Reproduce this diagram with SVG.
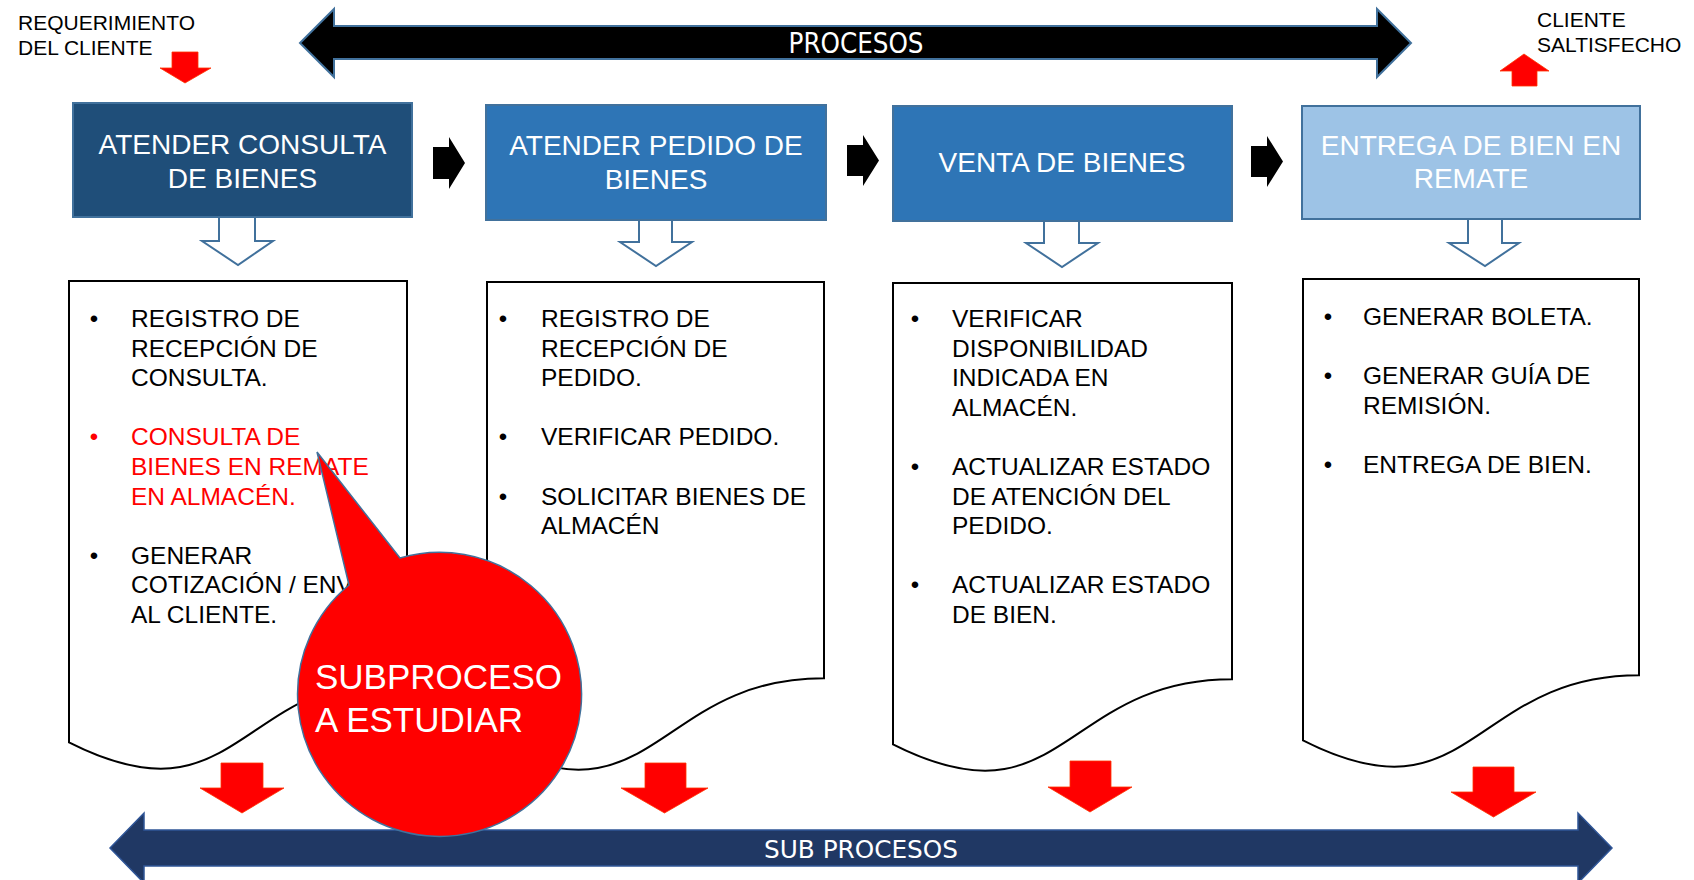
<svg xmlns="http://www.w3.org/2000/svg" width="1694" height="880" viewBox="0 0 1694 880">
<defs>
<style>
text{font-family:"Liberation Sans",Arial,sans-serif;}
.small{font-size:21px;fill:#000;}
.box{stroke:#41719C;stroke-width:2;}
.bt{font-size:28px;fill:#fff;text-anchor:middle;}
.doc{fill:#fff;stroke:#000;stroke-width:2;}
.li{font-size:24.5px;fill:#000;}
.lr{font-size:24.5px;fill:#FF0000;}
.bul{font-size:24px;text-anchor:middle;fill:#000;}
.bulr{font-size:24px;text-anchor:middle;fill:#FF0000;}
.hollow{fill:#fff;stroke:#41719C;stroke-width:2;}
.blk{fill:#000;}
.redar{fill:#FF0000;stroke:#FF3300;stroke-width:0.8;}
.band{font-family:"DejaVu Sans Condensed","Liberation Sans",sans-serif;fill:#fff;text-anchor:middle;}
</style>
</defs>
<rect width="1694" height="880" fill="#fff"/>

<g id="label-requerimiento">
<text class="small" x="18" y="30">REQUERIMIENTO</text>
<text class="small" x="18" y="55">DEL CLIENTE</text>
</g>
<g id="label-cliente">
<text class="small" x="1537" y="27">CLIENTE</text>
<text class="small" x="1537" y="52">SALTISFECHO</text>
</g>

<g id="procesos">
<path d="M300,43 L334,9 L334,26 L1377,26 L1377,9 L1411,43 L1377,77 L1377,59 L334,59 L334,77 Z" fill="#000" stroke="#41719C" stroke-width="2"/>
<text class="band" x="856" y="53" font-size="28" textLength="135" lengthAdjust="spacingAndGlyphs">PROCESOS</text>
</g>

<g id="box1">
<rect class="box" x="73" y="103" width="339" height="114" fill="#1F4E79"/>
<text class="bt" x="242.5" y="154">ATENDER CONSULTA</text>
<text class="bt" x="242.5" y="188">DE BIENES</text>
</g>
<g id="box2">
<rect class="box" x="486" y="105" width="340" height="115" fill="#2E75B6"/>
<text class="bt" x="656" y="155">ATENDER PEDIDO DE</text>
<text class="bt" x="656" y="189">BIENES</text>
</g>
<g id="box3">
<rect class="box" x="893" y="106" width="339" height="115" fill="#2E75B6"/>
<text class="bt" x="1062" y="172">VENTA DE BIENES</text>
</g>
<g id="box4">
<rect class="box" x="1302" y="106" width="338" height="113" fill="#9DC3E6"/>
<text class="bt" x="1471" y="155">ENTREGA DE BIEN EN</text>
<text class="bt" x="1471" y="188">REMATE</text>
</g>

<g id="doc1">
<path class="doc" d="M69,281 H407 V677.2 C238,677.2 238,828.1 69,742.4 Z"/>
<text class="bul" x="94" y="327">•</text>
<text class="li" x="131" y="327">REGISTRO DE</text>
<text class="li" x="131" y="356.6">RECEPCIÓN DE</text>
<text class="li" x="131" y="386.2">CONSULTA.</text>
<text class="bulr" x="94" y="445.4">•</text>
<text class="lr" x="131" y="445.4">CONSULTA DE</text>
<text class="lr" x="131" y="475">BIENES EN REMATE</text>
<text class="lr" x="131" y="504.6">EN ALMACÉN.</text>
<text class="bul" x="94" y="563.8">•</text>
<text class="li" x="131" y="563.8">GENERAR</text>
<text class="li" x="131" y="593.4">COTIZACIÓN / ENVÍO</text>
<text class="li" x="131" y="623">AL CLIENTE.</text>
</g>

<g id="doc2">
<path class="doc" d="M487,282 H824 V678.2 C655.5,678.2 655.5,829.1 487,743.4 Z"/>
<text class="bul" x="503" y="327">•</text>
<text class="li" x="541" y="327">REGISTRO DE</text>
<text class="li" x="541" y="356.6">RECEPCIÓN DE</text>
<text class="li" x="541" y="386.2">PEDIDO.</text>
<text class="bul" x="503" y="445.4">•</text>
<text class="li" x="541" y="445.4">VERIFICAR PEDIDO.</text>
<text class="bul" x="503" y="504.6">•</text>
<text class="li" x="541" y="504.6">SOLICITAR BIENES DE</text>
<text class="li" x="541" y="534.2">ALMACÉN</text>
</g>

<g id="doc3">
<path class="doc" d="M893,283 H1232 V679.2 C1062.5,679.2 1062.5,830.1 893,744.4 Z"/>
<text class="bul" x="915" y="327">•</text>
<text class="li" x="952" y="327">VERIFICAR</text>
<text class="li" x="952" y="356.6">DISPONIBILIDAD</text>
<text class="li" x="952" y="386.2">INDICADA EN</text>
<text class="li" x="952" y="415.8">ALMACÉN.</text>
<text class="bul" x="915" y="475">•</text>
<text class="li" x="952" y="475">ACTUALIZAR ESTADO</text>
<text class="li" x="952" y="504.6">DE ATENCIÓN DEL</text>
<text class="li" x="952" y="534.2">PEDIDO.</text>
<text class="bul" x="915" y="593.4">•</text>
<text class="li" x="952" y="593.4">ACTUALIZAR ESTADO</text>
<text class="li" x="952" y="623">DE BIEN.</text>
</g>

<g id="doc4">
<path class="doc" d="M1303,279 H1639 V675.2 C1471,675.2 1471,826.1 1303,740.4 Z"/>
<text class="bul" x="1328" y="325">•</text>
<text class="li" x="1363" y="325">GENERAR BOLETA.</text>
<text class="bul" x="1328" y="384.2">•</text>
<text class="li" x="1363" y="384.2">GENERAR GUÍA DE</text>
<text class="li" x="1363" y="413.8">REMISIÓN.</text>
<text class="bul" x="1328" y="473">•</text>
<text class="li" x="1363" y="473">ENTREGA DE BIEN.</text>
</g>

<g id="connectors">
<path class="redar" d="M172,52 H198 V68 H211 L185,83 L160,68 H172 Z"/>
<path class="redar" d="M1512,86 H1537 V71 H1549 L1524,54 L1500,71 H1512 Z"/>
<path class="blk" d="M433,147 H449 V137 L465,163 L449,189 V179 H433 Z"/>
<path class="blk" d="M847,145 H863 V135 L879,160.5 L863,186 V176 H847 Z"/>
<path class="blk" d="M1251,146 H1267 V136 L1283,161.5 L1267,187 V177 H1251 Z"/>
<path class="hollow" d="M219,217 H255 V241 H273 L238,265 L202,241 H219 Z"/>
<path class="hollow" d="M639,220 H672 V242 H692 L656,266 L620,242 H639 Z"/>
<path class="hollow" d="M1044,221 H1079 V243 H1098 L1062,267 L1026,243 H1044 Z"/>
<path class="hollow" d="M1468,219 H1502 V243 H1519 L1485,266 L1449,243 H1468 Z"/>
<path class="redar" d="M221,763 H263 V788 H284 L242,813 L200,788 H221 Z"/>
<path class="redar" d="M645,763 H686 V788 H708 L664.5,813 L621,788 H645 Z"/>
<path class="redar" d="M1070,761 H1111 V787 H1132 L1090,812 L1048,787 H1070 Z"/>
<path class="redar" d="M1473,767 H1514 V792 H1536 L1493.5,817 L1451,792 H1473 Z"/>
</g>

<g id="subprocesos">
<path d="M110,848 L144,813 L144,830 L1578,830 L1578,813 L1612,848 L1578,883 L1578,866 L144,866 L144,883 Z" fill="#203864" stroke="#2F5597" stroke-width="1.5"/>
<text class="band" x="861" y="858" font-size="25" textLength="194" lengthAdjust="spacingAndGlyphs">SUB PROCESOS</text>
</g>

<g id="callout">
<path d="M400,558 L317,452 L349,585 A142,142 0 1 0 400,558 Z" fill="#FF0000" stroke="#41719C" stroke-width="1.5"/>
<text x="315" y="689" font-size="35" fill="#fff">SUBPROCESO</text>
<text x="315" y="732" font-size="35" fill="#fff">A ESTUDIAR</text>
</g>
</svg>
